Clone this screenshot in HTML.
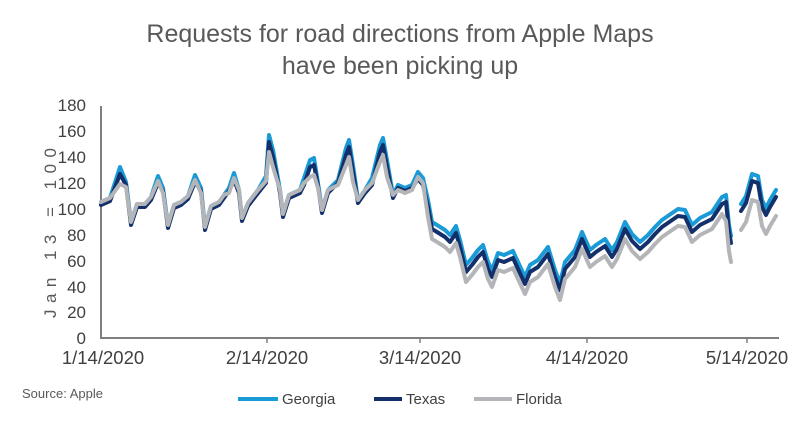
<!DOCTYPE html>
<html><head><meta charset="utf-8"><style>
html,body{margin:0;padding:0;background:#fff;}
svg{display:block;font-family:"Liberation Sans",sans-serif;}
</style></head><body>
<svg id="s" width="800" height="425" viewBox="0 0 800 425">
<text x="400" y="42" text-anchor="middle" font-size="25" fill="#595959">Requests for road directions from Apple Maps</text>
<text x="400" y="74" text-anchor="middle" font-size="25" fill="#595959">have been picking up</text>
<g font-size="17" fill="#404040" text-anchor="end">
<text x="86" y="111">180</text><text x="86" y="137">160</text><text x="86" y="163">140</text>
<text x="86" y="189">120</text><text x="86" y="215">100</text><text x="86" y="241">80</text>
<text x="86" y="267">60</text><text x="86" y="293">40</text><text x="86" y="318">20</text>
<text x="86" y="344">0</text>
</g>
<text transform="translate(56,318) rotate(-90)" font-size="17" fill="#595959" textLength="170" lengthAdjust="spacing">Jan 13 = 100</text>
<line x1="101" y1="106" x2="101" y2="339" stroke="#7f7f7f" stroke-width="2"/>
<line x1="100" y1="338" x2="779" y2="338" stroke="#7f7f7f" stroke-width="2"/>
<g stroke="#7f7f7f" stroke-width="1.5">
<line x1="267" y1="338" x2="267" y2="343"/><line x1="420" y1="338" x2="420" y2="343"/>
<line x1="587" y1="338" x2="587" y2="343"/><line x1="747" y1="338" x2="747" y2="343"/>
</g>
<g font-size="18.5" fill="#404040" text-anchor="middle">
<text x="103" y="364">1/14/2020</text><text x="267" y="364">2/14/2020</text>
<text x="420" y="364">3/14/2020</text><text x="587" y="364">4/14/2020</text>
<text x="747" y="364">5/14/2020</text>
</g>
<text x="22" y="398" font-size="13" fill="#595959">Source: Apple</text>
<line x1="238" y1="399" x2="278" y2="399" stroke="#1a9ad6" stroke-width="4"/>
<text x="282" y="404" font-size="15" fill="#404040">Georgia</text>
<line x1="374" y1="399" x2="402" y2="399" stroke="#13306b" stroke-width="4"/>
<text x="406" y="404" font-size="15" fill="#404040">Texas</text>
<line x1="474" y1="399" x2="512" y2="399" stroke="#b3b5b8" stroke-width="4"/>
<text x="516" y="404" font-size="15" fill="#404040">Florida</text>
<g id="lines" fill="none" stroke-width="4" stroke-linejoin="round" stroke-linecap="round"></g>
</svg>
<script>
var A=[101,202,110,198,120,167,126,182,131,222,137,204,145,204,151,197,158,176,163,188,168,225,174,205,181,202,188,196,195,175,201,188,205,227,211,206,219,202,224,195,229,188,234,173,239,190,242,218,248,203,258,190,266,176,269,135,273,150,280,190,283,214,289,195,300,190,304,178,310,160,314,158,318,183,322,210,328,190,338,180,346,148,349,140,353,165,358,200,365,190,372,178,380,145,383,138,387,160,393,195,398,185,405,188,412,185,418,172,423,178,428,200,432,222,437,225,445,230,450,235,456,226,460,240,466,265,472,258,478,250,483,245,488,262,492,270,498,253,504,255,513,251,518,262,525,277,530,265,538,260,548,247,555,270,560,283,565,262,575,250,582,232,590,250,596,245,605,239,612,250,617,242,625,222,632,234,640,242,648,235,655,227,662,220,678,209,685,210,692,225,700,218,712,212,722,197,726,195,729,225,731,236];
var B=[741,204,746,196,752,174,758,176,762,200,766,208,770,200,776,190];
function mk(arr,f){var s=[];for(var i=0;i<arr.length;i+=2){s.push(arr[i]+','+f(arr[i],arr[i+1]).toFixed(1));}return s.join(' ');}
var ser=[["#1a9ad6",function(x,y){return y;}],
["#13306b",function(x,y){if(x<425)return y<180?y+7:y+3;return y+7;}],
["#b3b5b8",function(x,y){if(x<425){if(y<170)return y+17;if(y<190)return y+5;return y;}if(x>=726)return y+26;return y+17;}]];
var g=document.getElementById('lines'),h='';
ser.forEach(function(s){h+='<polyline stroke="'+s[0]+'" points="'+mk(A,s[1])+'"/>';h+='<polyline stroke="'+s[0]+'" points="'+mk(B,s[1])+'"/>';});
g.innerHTML=h;
</script>
</body></html>
